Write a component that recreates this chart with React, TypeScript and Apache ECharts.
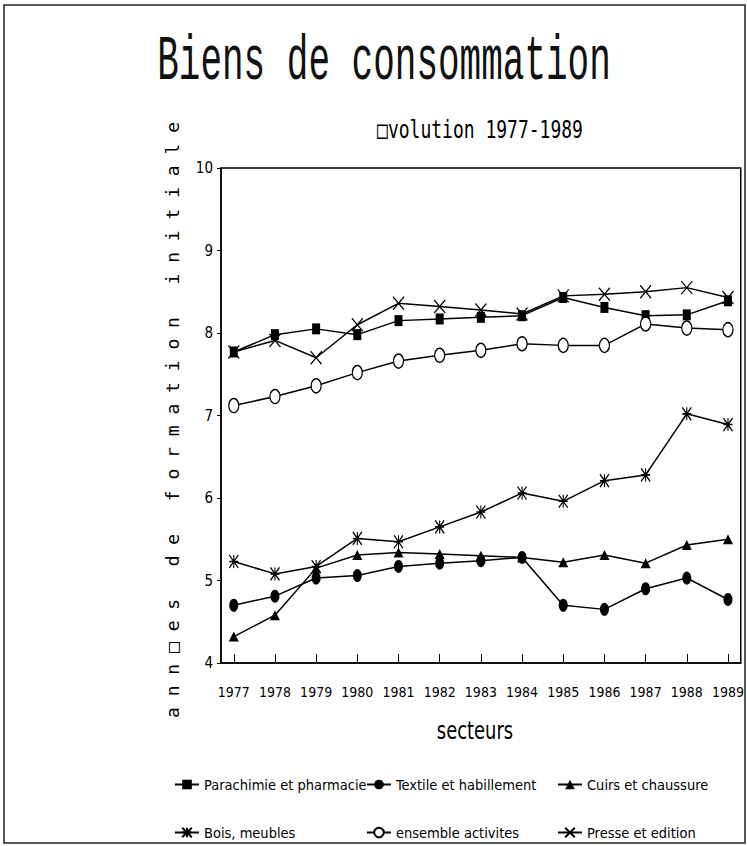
import React, { useEffect, useRef } from "react";
import * as echarts from "echarts";

const years = [1977, 1978, 1979, 1980, 1981, 1982, 1983, 1984, 1985, 1986, 1987, 1988, 1989];
const parachimie = [7.77, 7.98, 8.05, 7.98, 8.15, 8.17, 8.19, 8.21, 8.43, 8.31, 8.21, 8.22, 8.39];
const textile = [4.7, 4.81, 5.03, 5.06, 5.17, 5.21, 5.24, 5.28, 4.7, 4.65, 4.9, 5.03, 4.77];
const cuirs = [4.32, 4.58, 5.15, 5.31, 5.34, 5.32, 5.3, 5.28, 5.22, 5.31, 5.21, 5.43, 5.5];
const bois = [5.23, 5.08, 5.17, 5.51, 5.47, 5.65, 5.83, 6.06, 5.96, 6.21, 6.28, 7.02, 6.89];
const ensemble = [7.12, 7.23, 7.36, 7.52, 7.66, 7.73, 7.79, 7.87, 7.85, 7.85, 8.11, 8.06, 8.04];
const presse = [7.77, 7.91, 7.7, 8.1, 8.36, 8.32, 8.28, 8.23, 8.45, 8.47, 8.5, 8.55, 8.43];

const seriesNames = [
  "Parachimie et pharmacie",
  "Textile et habillement",
  "Cuirs et chaussure",
  "Bois, meubles",
  "ensemble activites",
  "Presse et edition",
];

const titleText = "Biens de consommation";
const subtitleText = "\u25A1volution 1977-1989";
const xName = "secteurs";
const yName = "a n n \u25A1 e s   d e   f o r m a t i o n   i n i t i a l e";

const NARROW = "'Liberation Sans Narrow', 'DejaVu Sans Condensed', sans-serif";
const TITLE_MONO = "'Liberation Mono', 'DejaVu Sans Mono', monospace";
const MONO = "'DejaVu Sans Mono', monospace";

const pairs = (vals: number[]) => years.map((y, i) => [y, vals[i]]);

export default function App() {
  const ref = useRef<HTMLDivElement>(null);
  useEffect(() => {
    if (!ref.current) return;
    const chart = echarts.init(ref.current, null, { renderer: "svg" });
    const black = "#000";
    const lineStyle = { color: black, width: 1.5 };
    const mk = (name: string, vals: number[], symbol: string, size: any, itemStyle: any) => ({
      name,
      type: "line",
      data: pairs(vals),
      symbol,
      symbolSize: size,
      symbolKeepAspect: false,
      showSymbol: true,
      lineStyle,
      itemStyle,
      emphasis: { disabled: true },
    });
    const filled = { color: black, borderColor: black, borderWidth: 0 };
    const stroked = { color: "rgba(0,0,0,0)", borderColor: black, borderWidth: 1.3 };
    const legendCommon = {
      orient: "horizontal",
      padding: 0,
      itemWidth: 24,
      itemHeight: 12,
      textStyle: { fontFamily: NARROW, fontSize: 14.5, color: black },
      selectedMode: false,
    };
    const legendPos = [
      [174, 777],
      [366, 777],
      [557, 777],
      [174, 825],
      [366, 825],
      [557, 825],
    ];
    chart.setOption({
      animation: false,
      backgroundColor: "#fff",
      grid: {
        left: 221,
        top: 168,
        right: 3,
        bottom: 183,
        show: true,
        borderColor: black,
        borderWidth: 1.5,
        backgroundColor: "transparent",
      },
      xAxis: {
        type: "value",
        min: 1976.69,
        max: 1989.31,
        axisLine: { show: true, lineStyle: { color: black, width: 1.5 } },
        axisTick: { show: true, inside: true, length: 9, customValues: years, lineStyle: { color: black, width: 1 } },
        axisLabel: {
          customValues: years,
          formatter: (v: number) => String(v),
          margin: 22,
          color: black,
          fontFamily: NARROW,
          fontSize: 14,
        },
        splitLine: { show: false },
      },
      yAxis: {
        type: "value",
        min: 4,
        max: 10,
        interval: 1,
        axisLine: { show: true, lineStyle: { color: black, width: 1.5 } },
        axisTick: { show: true, length: 4, lineStyle: { color: black } },
        axisLabel: { margin: 8, color: black, fontFamily: NARROW, fontSize: 15 },
        splitLine: { show: false },
      },
      legend: seriesNames.map((n, i) => ({
        ...legendCommon,
        left: legendPos[i][0],
        top: legendPos[i][1],
        data: [n],
      })),
      series: [
        mk(seriesNames[0], parachimie, "rect", [8, 11], filled),
        mk(seriesNames[1], textile, "circle", [9, 13], filled),
        mk(seriesNames[2], cuirs, "triangle", [10, 10], filled),
        mk(seriesNames[3], bois, "path://M0,0L10,14M10,0L0,14M5,0L5,14M0,7L10,7", [9, 13], stroked),
        mk(seriesNames[4], ensemble, "circle", [10, 14], { color: "#fff", borderColor: black, borderWidth: 1.3 }),
        mk(seriesNames[5], presse, "path://M0,0L10,14M10,0L0,14", [11, 13], stroked),
      ],
      graphic: [
        {
          type: "rect",
          z: -1,
          silent: true,
          shape: { x: 4, y: 5, width: 741, height: 838 },
          style: { fill: "none", stroke: "#222", lineWidth: 1.5 },
        },
        {
          type: "text",
          x: 384,
          y: 62,
          scaleY: 1.75,
          style: {
            text: titleText,
            fontFamily: TITLE_MONO,
            fontSize: 36,
            fill: "#111",
            align: "center",
            verticalAlign: "middle",
          },
        },
        {
          type: "text",
          x: 480,
          y: 129,
          scaleY: 1.35,
          style: {
            text: subtitleText,
            fontFamily: MONO,
            fontSize: 18,
            fill: black,
            align: "center",
            verticalAlign: "middle",
          },
        },
        {
          type: "text",
          x: 475,
          y: 731,
          scaleX: 0.83,
          style: {
            text: xName,
            fontFamily: NARROW,
            fontSize: 24,
            fill: black,
            align: "center",
            verticalAlign: "middle",
          },
        },
        {
          type: "text",
          x: 172,
          y: 420,
          rotation: Math.PI / 2,
          style: {
            text: yName,
            fontFamily: MONO,
            fontSize: 18,
            fill: black,
            align: "center",
            verticalAlign: "middle",
          },
        },
      ],
    });
    return () => chart.dispose();
  }, []);
  return (
    <div
      ref={ref}
      style={{ position: "fixed", left: 0, top: 0, width: 747, height: 846, background: "#fff" }}
    />
  );
}
